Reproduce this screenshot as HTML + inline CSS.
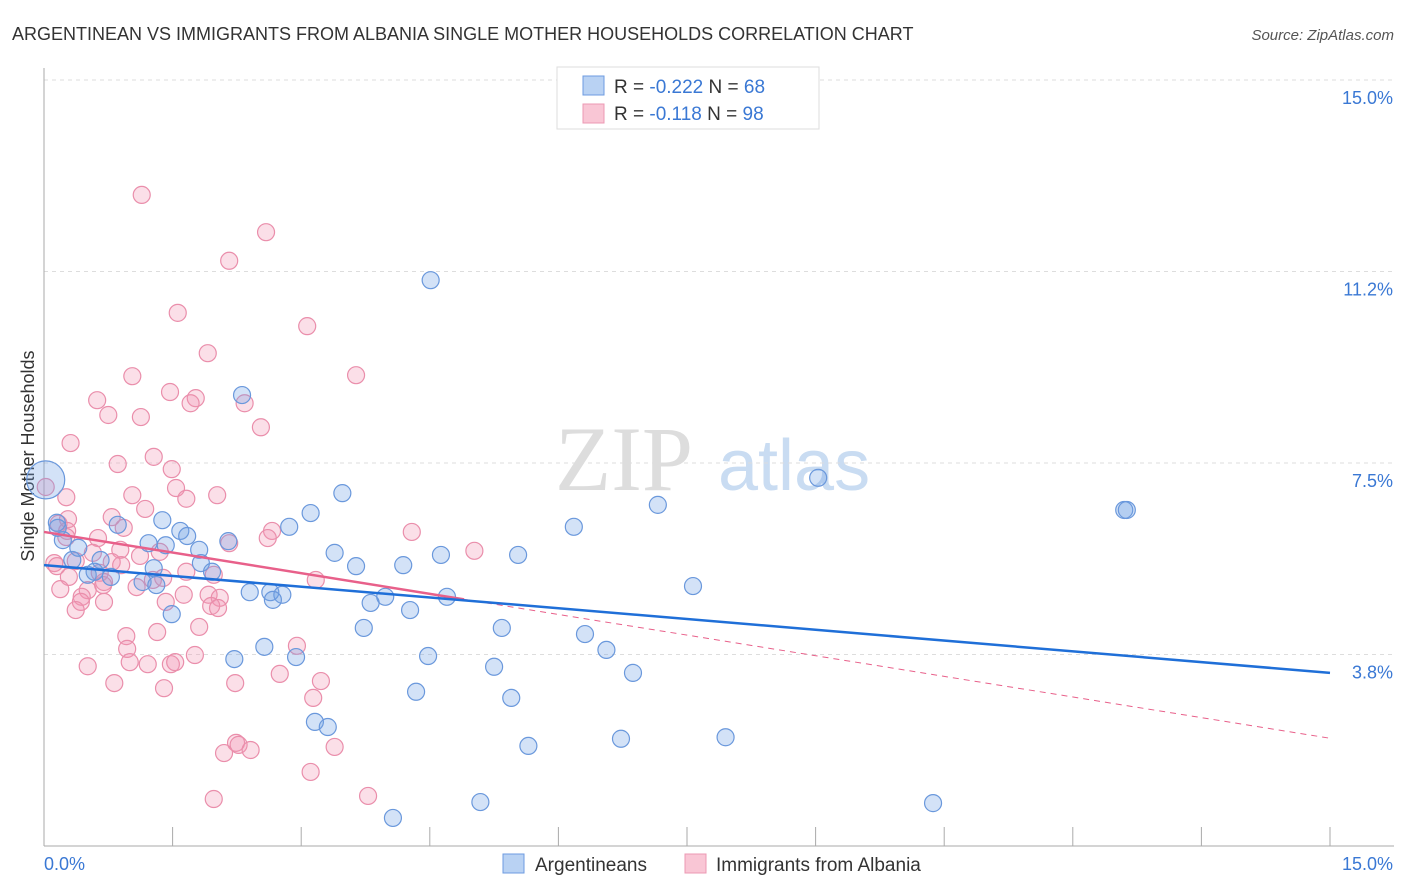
<!DOCTYPE html>
<html><head><meta charset="utf-8"><style>
body{margin:0;background:#fff;font-family:"Liberation Sans",sans-serif}
svg{display:block}
</style></head><body>
<svg id="c" width="1406" height="892" xmlns="http://www.w3.org/2000/svg">
<text x="12" y="40" font-size="18" fill="#333">ARGENTINEAN VS IMMIGRANTS FROM ALBANIA SINGLE MOTHER HOUSEHOLDS CORRELATION CHART</text>
<text x="1394" y="40" font-size="15" fill="#555" font-style="italic" text-anchor="end">Source: ZipAtlas.com</text>
<text transform="translate(34,456) rotate(-90)" font-size="18" fill="#333" text-anchor="middle">Single Mother Households</text>
<g><text x="555" y="490" font-size="92" fill="#ddd" font-family="Liberation Serif,serif">ZIP</text><text x="718" y="490" font-size="72" fill="#c9dcf2">atlas</text></g>
<g id="grid"></g><g id="axes"></g><g id="pts"></g><g id="trend"></g>
<g>
<rect x="557" y="67" width="262" height="62" fill="#fff" stroke="#ddd"/>
<rect x="583" y="76" width="21" height="19" fill="#b9d2f3" stroke="#6d9be0"/>
<rect x="583" y="104" width="21" height="19" fill="#f9c6d5" stroke="#ec98b3"/>
<text x="614" y="93" font-size="19" fill="#333">R = <tspan fill="#3a78d4">-0.222</tspan>   N = <tspan fill="#3a78d4">68</tspan></text>
<text x="614" y="120" font-size="19" fill="#333">R =  <tspan fill="#3a78d4">-0.118</tspan>   N = <tspan fill="#3a78d4">98</tspan></text>
</g>
<g>
<rect x="503" y="854" width="21" height="19" fill="#b9d2f3" stroke="#6d9be0"/>
<text x="535" y="871" font-size="19" fill="#333">Argentineans</text>
<rect x="685" y="854" width="21" height="19" fill="#f9c6d5" stroke="#ec98b3"/>
<text x="716" y="871" font-size="19" fill="#333">Immigrants from Albania</text>
</g>
</svg>
<script>
const yTicks=[15.0,11.25,7.5,3.75];
const yTickLabels=["15.0%","11.2%","7.5%","3.8%"];
const blueX=[4.51,2.31,9.03,12.60,12.63,3.48,7.16,6.18,3.11,2.86,1.38,0.86,1.59,1.67,2.15,1.22,1.42,1.81,3.39,4.63,5.53,3.64,4.19,1.83,1.96,0.66,0.33,0.40,0.22,0.16,0.15,0.51,0.78,0.59,1.28,1.15,1.31,7.57,2.40,2.64,2.78,2.67,3.81,3.98,4.27,4.70,1.49,3.73,5.34,6.31,2.57,6.56,2.94,4.48,2.22,5.25,6.87,4.34,5.45,3.16,3.31,6.73,7.95,5.65,5.09,10.37,4.07,0.02];
const blueY=[11.08,8.83,7.21,6.58,6.58,6.91,6.68,6.25,6.52,6.25,6.38,6.29,6.17,6.07,5.97,5.93,5.89,5.80,5.74,5.70,5.70,5.48,5.50,5.54,5.37,5.60,5.60,5.84,5.99,6.23,6.33,5.31,5.27,5.37,5.44,5.17,5.11,5.09,4.97,4.97,4.92,4.82,4.76,4.88,4.62,4.88,4.54,4.27,4.27,4.15,3.90,3.84,3.70,3.72,3.66,3.51,3.39,3.02,2.90,2.43,2.33,2.10,2.13,1.96,0.86,0.84,0.55,7.17];
const pinkX=[1.14,2.59,2.16,1.56,3.07,1.91,1.03,3.64,1.47,0.62,1.77,1.71,2.34,0.75,1.13,2.53,0.31,1.28,0.86,1.49,0.02,1.54,0.26,1.03,1.66,2.02,1.18,0.28,0.79,0.17,0.27,0.26,0.63,0.93,2.66,4.29,2.16,2.61,0.89,1.12,1.35,0.57,0.12,0.37,0.79,0.65,0.15,0.90,0.29,0.70,1.66,1.98,3.17,1.27,1.39,0.19,0.51,0.69,5.02,1.08,1.63,1.92,2.05,0.44,0.43,0.70,1.42,0.37,1.95,2.03,0.96,1.81,1.32,0.97,2.95,1.00,1.76,0.51,1.21,1.48,1.53,2.75,0.82,2.23,3.23,1.40,3.14,2.24,2.27,2.41,2.10,3.39,3.11,3.78,1.98];
const pinkY=[12.75,12.02,11.46,10.44,10.18,9.65,9.20,9.22,8.89,8.73,8.77,8.67,8.67,8.44,8.40,8.20,7.89,7.62,7.48,7.38,7.03,7.01,6.83,6.87,6.80,6.87,6.60,6.40,6.44,6.31,6.17,6.05,6.03,6.23,6.17,6.15,5.93,6.03,5.80,5.68,5.76,5.74,5.54,5.58,5.56,5.35,5.48,5.50,5.27,5.17,5.37,5.31,5.21,5.21,5.25,5.03,5.01,5.11,5.78,5.07,4.92,4.92,4.86,4.88,4.78,4.78,4.78,4.62,4.70,4.66,4.11,4.29,4.19,3.86,3.92,3.60,3.74,3.52,3.56,3.56,3.60,3.37,3.19,3.19,3.23,3.09,2.90,2.02,1.98,1.88,1.82,1.94,1.45,0.98,0.92];
const blueTrend=[5.50,3.39];
const pinkTrend=[6.15,2.11];
const pinkSolidEnd=4.9;
const X=v=>44+v/15*1286, Y=v=>846-v/3.75*191.5;
const NS="http://www.w3.org/2000/svg";
function mk(t,a,p){const e=document.createElementNS(NS,t);for(const k in a)e.setAttribute(k,a[k]);p.appendChild(e);return e;}
const grid=document.getElementById('grid'),axes=document.getElementById('axes');
yTicks.forEach((t,i)=>{
 const l=mk('line',{x1:44,x2:1394,y1:Y(t),y2:Y(t),stroke:'#ddd','stroke-dasharray':'4,4'},grid);
 
 
 const tx=mk('text',{x:1393,y:Y(t)+24,'font-size':18,fill:'#3a78d4','text-anchor':'end'},axes);
 tx.textContent=yTickLabels[i];
 
 
});
const ax=mk('line',{x1:44,x2:44,y1:68,y2:846,stroke:'#aaa'},axes);


const bx=mk('line',{x1:44,x2:1394,y1:846,y2:846,stroke:'#aaa'},axes);


for(let i=0;i<=10;i++){const t=mk('line',{x1:X(i*1.5),x2:X(i*1.5),y1:827,y2:846,stroke:'#aaa'},axes);
 
 }
const xl0=mk('text',{x:44,y:870,'font-size':18,fill:'#3a78d4'},axes);xl0.textContent='0.0%';


const xl1=mk('text',{x:1393,y:870,'font-size':18,fill:'#3a78d4','text-anchor':'end'},axes);xl1.textContent='15.0%';


const pts=document.getElementById('pts');
pinkX.forEach((v,i)=>{const c=mk('circle',{cx:X(v),cy:Y(pinkY[i]),r:8.5,fill:'rgba(242,150,180,0.3)',stroke:'#ea8eab','stroke-width':1.2},pts);
 
 });
blueX.forEach((v,i)=>{const big=i===blueX.length-1;const c=mk('circle',{cx:X(v),cy:Y(blueY[i]),r:big?19:8.5,fill:'rgba(110,160,230,0.3)',stroke:'#6a98dc','stroke-width':1.2},pts);
 
 });
const tr=document.getElementById('trend');
const lt=x=>pinkTrend[0]+(pinkTrend[1]-pinkTrend[0])*x/15;
const pd=mk('line',{x1:X(pinkSolidEnd),y1:Y(lt(pinkSolidEnd)),x2:X(15),y2:Y(pinkTrend[1]),stroke:'#e8608a','stroke-width':1,'stroke-dasharray':'6,5'},tr);


const ps=mk('line',{x1:X(0),y1:Y(pinkTrend[0]),x2:X(pinkSolidEnd),y2:Y(lt(pinkSolidEnd)),stroke:'#e8608a','stroke-width':2.5},tr);


const bl=mk('line',{x1:X(0),y1:Y(blueTrend[0]),x2:X(15),y2:Y(blueTrend[1]),stroke:'#1f6fd8','stroke-width':2.5},tr);


</script>
</body></html>
